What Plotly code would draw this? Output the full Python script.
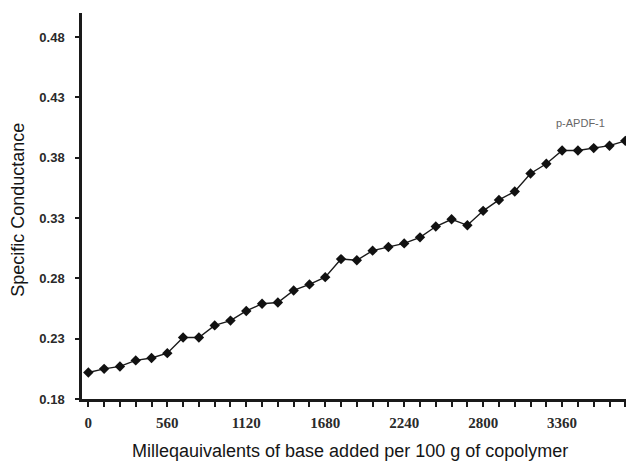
import plotly.graph_objects as go

# Titration: specific conductance versus base added (meq per 100 g copolymer)
base_added = [112 * i for i in range(35)]
conductance = [
    0.202, 0.205, 0.207, 0.212, 0.214, 0.218, 0.231, 0.231, 0.241, 0.245,
    0.253, 0.259, 0.260, 0.270, 0.275, 0.281, 0.296, 0.295, 0.303, 0.306,
    0.309, 0.314, 0.323, 0.329, 0.324, 0.336, 0.345, 0.352, 0.367, 0.375,
    0.386, 0.386, 0.388, 0.390, 0.394,
]
x_tick_vals = [0, 560, 1120, 1680, 2240, 2800, 3360]
x_tick_text = ["0", "560", "1120", "1680", "2240", "2800", "3360"]
y_tick_vals = [0.18, 0.23, 0.28, 0.33, 0.38, 0.43, 0.48]
y_tick_text = ["0.18", "0.23", "0.28", "0.33", "0.38", "0.43", "0.48"]
series_name = "p-APDF-1"

fig = go.Figure()
fig.add_trace(go.Scatter(
    x=base_added, y=conductance, mode="lines+markers", name=series_name,
    line=dict(color="#1a1a1a", width=1.4),
    marker=dict(symbol="diamond", size=8, color="#111111"),
    cliponaxis=False,
))

fig.add_annotation(
    x=3487, y=0.409, xref="x", yref="y", text=series_name, showarrow=False,
    font=dict(family="Liberation Sans, Arial", size=11, color="#666666"),
)
fig.add_annotation(
    x=0.5, y=0, xref="paper", yref="paper", yanchor="top",
    text="Milleqauivalents of base added per 100 g of copolymer", showarrow=False,
    font=dict(family="Liberation Sans, Arial", size=18, color="#151515"),
    xshift=-4, yshift=-40,
)
fig.add_annotation(
    x=0, y=0.49, xref="paper", yref="paper", textangle=-90,
    text="Specific Conductance", showarrow=False, xanchor="center",
    font=dict(family="Liberation Sans, Arial", size=18, color="#151515"),
    xshift=-64,
)

fig.update_layout(
    width=626, height=461,
    margin=dict(l=82, r=0, t=13, b=62),
    paper_bgcolor="white", plot_bgcolor="white",
    showlegend=False,
)
fig.update_xaxes(
    range=[-45, 3813], showgrid=False, zeroline=False,
    showline=True, linecolor="#1a1a1a", linewidth=2.5,
    tickvals=x_tick_vals, ticktext=x_tick_text,
    ticks="outside", ticklen=5, tickwidth=2, tickcolor="#1a1a1a",
    minor=dict(dtick=112, tick0=0, ticks="outside", ticklen=5, tickwidth=2,
               tickcolor="#1a1a1a", showgrid=False),
    tickfont=dict(family="Liberation Serif, Times New Roman", size=15,
                  color="#2a2a2a", weight="bold"),
    ticklabelstandoff=3,
)
fig.update_yaxes(
    range=[0.18, 0.50], showgrid=False, zeroline=False,
    showline=True, linecolor="#1a1a1a", linewidth=2.5,
    tickvals=y_tick_vals, ticktext=y_tick_text,
    ticks="outside", ticklen=4, tickwidth=2, tickcolor="#1a1a1a",
    tickfont=dict(family="Liberation Sans, Arial", size=13, color="#2a2a2a",
                  weight="bold"),
    ticklabelstandoff=8,
)

fig.write_html("out.html")
